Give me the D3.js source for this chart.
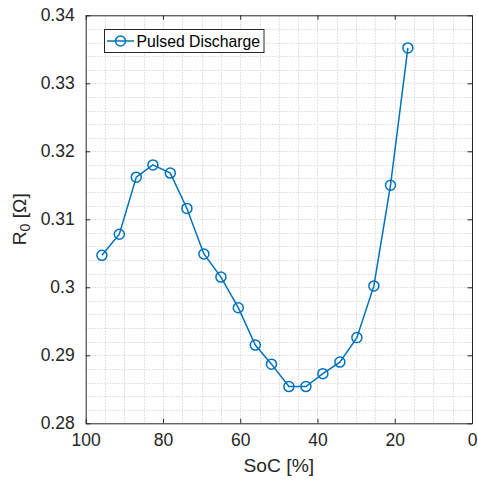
<!DOCTYPE html>
<html>
<head>
<meta charset="utf-8">
<script src="https://cdn.jsdelivr.net/npm/d3@7"></script>
<style>
  html, body { margin: 0; padding: 0; background: #fff; }
  svg { display: block; font-family: "Liberation Sans", Arial, Helvetica, sans-serif; }
</style>
</head>
<body>
<svg id="chart" width="478" height="481"></svg>
<script>
// State of charge [%] and ohmic resistance R0 [Ohm] from pulsed discharge tests
const soc = [95.8, 91.3, 86.9, 82.6, 78.1, 73.8, 69.4, 65.0, 60.5, 56.1,
             51.9, 47.4, 43.0, 38.6, 34.2, 29.8, 25.4, 21.1, 16.6];
const r0 = [0.3047, 0.3078, 0.3162, 0.3180, 0.3168, 0.3116, 0.3049, 0.3015, 0.2970, 0.2915,
            0.2887, 0.2854, 0.2854, 0.2873, 0.2890, 0.2926, 0.3002, 0.3150, 0.3352];
const xTicks = [100, 80, 60, 40, 20, 0];
const yTicks = [0.28, 0.29, 0.30, 0.31, 0.32, 0.33, 0.34];
const seriesName = "Pulsed Discharge";

const svg = d3.select("#chart");
const pL = 85.7, pR = 472, pT = 15.3, pB = 423.3;
const blue = "#0072BD", axisCol = "#262626";

const x = d3.scaleLinear().domain([100, 0]).range([pL, pR]);
const y = d3.scaleLinear().domain([0.28, 0.34]).range([pB, pT]);

// grid (major and minor, all dotted)
const g = svg.append("g");
const xMinor = d3.range(0, 101, 5);
const yMinor = d3.range(0, 31).map(i => 0.28 + i * 0.002);
g.selectAll("line.gx").data(xMinor.filter(v => v > 0 && v < 100)).join("line")
  .attr("x1", d => Math.round(x(d)) + 0.5).attr("x2", d => Math.round(x(d)) + 0.5)
  .attr("y1", pT).attr("y2", pB)
  .attr("stroke", "#d9d9d9").attr("stroke-width", 1).attr("stroke-dasharray", "1.5,1.5");
g.selectAll("line.gy").data(yMinor.filter((v, i) => i > 0 && i < 30)).join("line")
  .attr("y1", d => Math.round(y(d)) + 0.5).attr("y2", d => Math.round(y(d)) + 0.5)
  .attr("x1", pL).attr("x2", pR)
  .attr("stroke", "#d9d9d9").attr("stroke-width", 1).attr("stroke-dasharray", "1.5,1.5");

// axes with inward ticks on all four sides
const fmtY = d => String(+d.toFixed(2));
const axB = svg.append("g").attr("transform", `translate(0,${pB})`)
  .call(d3.axisBottom(x).tickValues(xTicks).tickSizeInner(-4.5).tickSizeOuter(0).tickPadding(10));
const axT = svg.append("g").attr("transform", `translate(0,${pT})`)
  .call(d3.axisTop(x).tickValues(xTicks).tickSizeInner(-4.5).tickSizeOuter(0).tickFormat(""));
const axL = svg.append("g").attr("transform", `translate(${pL},0)`)
  .call(d3.axisLeft(y).tickValues(yTicks).tickSizeInner(-4.5).tickSizeOuter(0).tickPadding(11).tickFormat(fmtY));
const axR = svg.append("g").attr("transform", `translate(${pR},0)`)
  .call(d3.axisRight(y).tickValues(yTicks).tickSizeInner(-4.5).tickSizeOuter(0).tickFormat(""));
[axB, axT, axL, axR].forEach(a => {
  a.select(".domain").attr("stroke", axisCol).attr("stroke-width", 1);
  a.selectAll(".tick line").attr("stroke", axisCol).attr("stroke-width", 1);
  a.selectAll("text").attr("fill", axisCol).attr("font-size", "17.5px")
    .attr("font-family", "Liberation Sans, Arial, sans-serif");
});
axB.selectAll("text").attr("dy", "0.71em");

// data line and circle markers
const line = d3.line().x((d, i) => x(soc[i])).y(d => y(d));
svg.append("path").datum(r0).attr("d", line)
  .attr("fill", "none").attr("stroke", blue).attr("stroke-width", 1.5);
svg.selectAll("circle.m").data(r0).join("circle")
  .attr("cx", (d, i) => x(soc[i])).attr("cy", d => y(d)).attr("r", 5)
  .attr("fill", "none").attr("stroke", blue).attr("stroke-width", 1.5);

// axis labels
svg.append("text").attr("x", (pL + pR) / 2).attr("y", 472)
  .attr("text-anchor", "middle").attr("fill", axisCol).attr("font-size", "19.25px")
  .text("SoC [%]");
const yl = svg.append("text").attr("transform", `translate(26,${(pT + pB) / 2}) rotate(-90)`)
  .attr("text-anchor", "middle").attr("fill", axisCol).attr("font-size", "19.25px");
yl.append("tspan").text("R");
yl.append("tspan").attr("font-size", "14px").attr("dy", "4").text("0");
yl.append("tspan").attr("dy", "-4").text(" [Ω]");

// legend
const lg = svg.append("g");
lg.append("rect").attr("x", 104.5).attr("y", 29.5).attr("width", 159.5).attr("height", 23)
  .attr("fill", "#fff").attr("stroke", axisCol).attr("stroke-width", 1);
lg.append("line").attr("x1", 107).attr("x2", 134).attr("y1", 41).attr("y2", 41)
  .attr("stroke", blue).attr("stroke-width", 1.5);
lg.append("circle").attr("cx", 120.5).attr("cy", 41).attr("r", 5)
  .attr("fill", "none").attr("stroke", blue).attr("stroke-width", 1.5);
lg.append("text").attr("x", 136.5).attr("y", 46.5).attr("fill", "#000")
  .attr("font-size", "15.75px").text(seriesName);
</script>
</body>
</html>
